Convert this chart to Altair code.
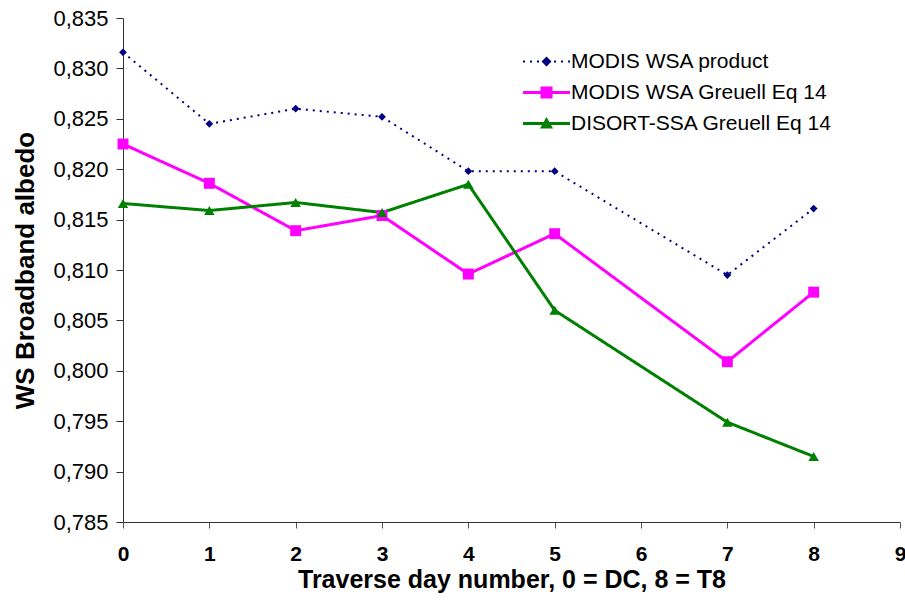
import altair as alt
import pandas as pd

# ---- data ----
days = [0, 1, 2, 3, 4, 5, 7, 8]
modis_wsa_product = [0.8316, 0.8245, 0.8260, 0.8252, 0.8198, 0.8198, 0.8095, 0.8161]
modis_wsa_greuell = [0.8225, 0.8186, 0.8139, 0.8154, 0.8096, 0.8136, 0.8009, 0.8078]
disort_ssa_greuell = [0.8166, 0.8159, 0.8167, 0.8157, 0.8185, 0.8060, 0.7949, 0.7915]

series_names = ["MODIS WSA product", "MODIS WSA Greuell Eq 14", "DISORT-SSA Greuell Eq 14"]
series_values = [modis_wsa_product, modis_wsa_greuell, disort_ssa_greuell]
series_colors = ["#000080", "#FF00FF", "#008000"]

x_ticks = [0, 1, 2, 3, 4, 5, 6, 7, 8, 9]
y_ticks = [0.785, 0.790, 0.795, 0.800, 0.805, 0.810, 0.815, 0.820, 0.825, 0.830, 0.835]

x_title = "Traverse day number, 0 = DC, 8 = T8"
y_title = "WS Broadband albedo"

# ---- styling ----
line_dash = [[2, 5], [1, 0], [1, 0]]
line_width = [2, 3, 3]
marker_shape = ["diamond", "square", "triangle-up"]
marker_size = [60, 120, 110]

# legend symbols: line segment + marker drawn as one filled path
dots = "".join(
    f"M{c-0.2:.2f},-0.2L{c+0.2:.2f},-0.2L{c+0.2:.2f},0.2L{c-0.2:.2f},0.2Z"
    for c in [-4.5, -3.1, -1.7, 1.7, 3.1, 4.5]
)
solid = "M-4.7,-0.3L4.7,-0.3L4.7,0.3L-4.7,0.3Z"
legend_paths = [
    dots + "M0,-1L1,0L0,1L-1,0Z",
    solid + "M-1.2,-1.2L1.2,-1.2L1.2,1.2L-1.2,1.2Z",
    solid + "M0,-1.3L1.3,1.0L-1.3,1.0Z",
]

rows = []
for name, vals in zip(series_names, series_values):
    for d, v in zip(days, vals):
        rows.append({"day": d, "albedo": v, "series": name})
df = pd.DataFrame(rows)

FONT = "Liberation Sans, Arial, sans-serif"

x_scale = alt.Scale(domain=[0, 9], nice=False, zero=False)
y_scale = alt.Scale(domain=[0.785, 0.835], nice=False, zero=False)

x_axis = alt.Axis(
    values=x_ticks, title=x_title, grid=False, format="d",
    labelFont=FONT, labelFontWeight="bold", labelFontSize=21, labelColor="black",
    labelPadding=15, tickSize=6, tickColor="#555", domainColor="#333",
    titleFont=FONT, titleFontWeight="bold", titleFontSize=25, titleColor="black",
    titlePadding=3, labelFlush=False, labelOverlap=False,
)
y_axis = alt.Axis(
    values=y_ticks, title=y_title, grid=False,
    labelExpr="replace(format(datum.value, '.3f'), '.', ',')",
    labelFont=FONT, labelFontSize=22, labelColor="black", labelPadding=8,
    tickSize=7, tickColor="#333", domainColor="#333",
    titleFont=FONT, titleFontWeight="bold", titleFontSize=26, titleColor="black",
    titleX=-90, titleBaseline="alphabetic", titleAnchor="middle",
    labelFlush=False, labelOverlap=False,
)

X = alt.X("day:Q", scale=x_scale, axis=x_axis)
Y = alt.Y("albedo:Q", scale=y_scale, axis=y_axis)

layers = []
for i, name in enumerate(series_names):
    base = alt.Chart(df).transform_filter(alt.datum.series == name)
    layers.append(
        base.mark_line(
            color=series_colors[i], strokeWidth=line_width[i], strokeDash=line_dash[i]
        ).encode(x=X, y=Y)
    )
for i, name in enumerate(series_names):
    base = alt.Chart(df).transform_filter(alt.datum.series == name)
    layers.append(
        base.mark_point(
            shape=marker_shape[i], size=marker_size[i], filled=True,
            color=series_colors[i], opacity=1,
        ).encode(x=X, y=Y)
    )

# legend-only layer (points placed outside the domain and clipped)
legend_df = pd.DataFrame({"series": series_names, "day": [1, 1, 1], "albedo": [0.70, 0.70, 0.70]})
leg = alt.Legend(
    title=None, orient="none", legendX=413, legendY=33, padding=0,
    labelFont=FONT, labelFontSize=21, labelColor="black", labelOffset=14,
    symbolSize=100, symbolStrokeWidth=0, rowPadding=9, labelLimit=400,
    symbolOpacity=1,
)
layers.append(
    alt.Chart(legend_df).mark_point(filled=True, clip=True, size=100, opacity=1).encode(
        x=X, y=Y,
        color=alt.Color("series:N", scale=alt.Scale(domain=series_names, range=series_colors), legend=leg),
        shape=alt.Shape("series:N", scale=alt.Scale(domain=series_names, range=legend_paths), legend=leg),
    )
)

chart = alt.layer(*layers).properties(
    width=777, height=504,
    autosize=alt.AutoSizeParams(type="none"),
    padding={"left": 123, "top": 18, "right": 5, "bottom": 79},
    background="white",
).configure_view(stroke="transparent")

chart.save("out.html", embed_options={"renderer": "svg", "actions": False})
